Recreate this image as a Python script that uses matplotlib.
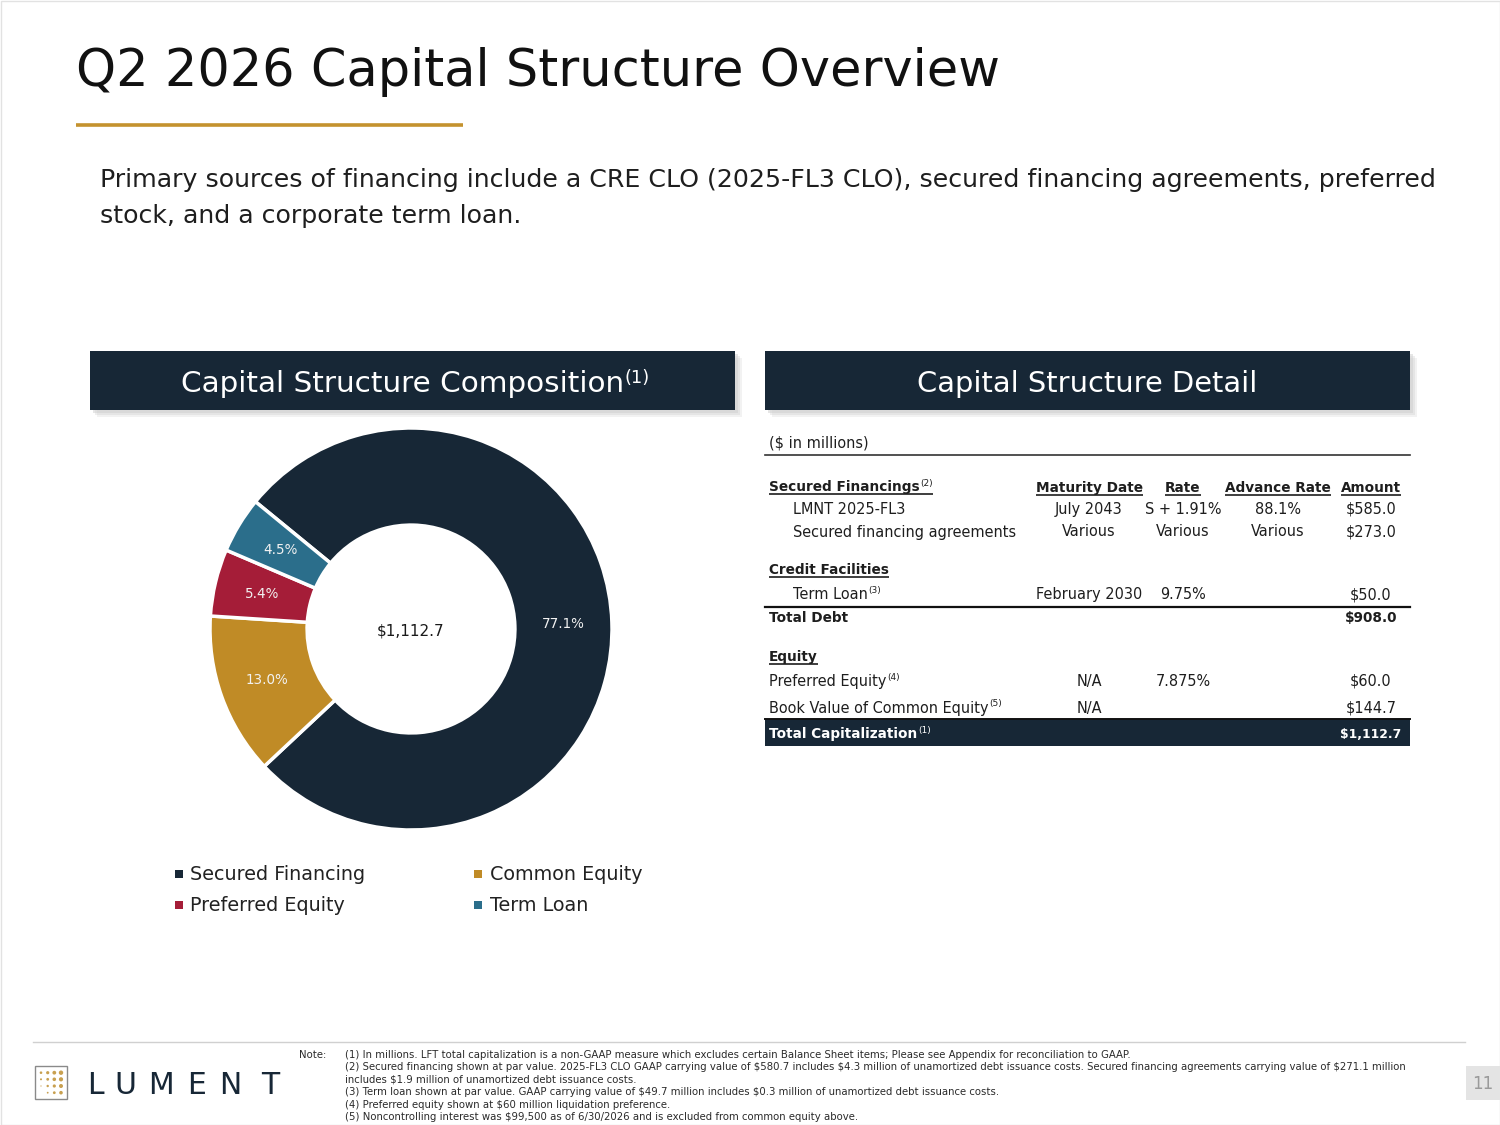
import matplotlib
matplotlib.use('Agg')
import matplotlib.pyplot as plt
from matplotlib.patches import Rectangle, Circle

plt.rcParams['font.family'] = ['DejaVu Sans']
plt.rcParams['text.parse_math'] = False

# ---------------- data ----------------
title = 'Q2 2026 Capital Structure Overview'
subtitle_lines = ['Primary sources of financing include a CRE CLO (2025-FL3 CLO), secured financing agreements, preferred',
                  'stock, and a corporate term loan.']
left_header = 'Capital Structure Composition'
left_header_sup = '(1)'
right_header = 'Capital Structure Detail'

pie_categories = ['Secured Financing', 'Common Equity', 'Preferred Equity', 'Term Loan']
pie_amounts = [858.0, 144.7, 60.0, 50.0]
pie_colors = ['#172736', '#C08B26', '#A51D38', '#2B6E8B']
pie_total = '$1,112.7'

units_note = '($ in millions)'
column_headers = ['Maturity Date', 'Rate', 'Advance Rate', 'Amount']

secured_title, secured_sup = 'Secured Financings', '(2)'
secured_labels = ['LMNT 2025-FL3', 'Secured financing agreements']
secured_maturity = ['July 2043', 'Various']
secured_rate = ['S + 1.91%', 'Various']
secured_advance = ['88.1%', 'Various']
secured_amount = ['$585.0', '$273.0']

credit_title = 'Credit Facilities'
credit_labels = ['Term Loan']
credit_sups = ['(3)']
credit_maturity = ['February 2030']
credit_rate = ['9.75%']
credit_advance = ['']
credit_amount = ['$50.0']

total_debt_label, total_debt = 'Total Debt', '$908.0'

equity_title = 'Equity'
equity_labels = ['Preferred Equity', 'Book Value of Common Equity']
equity_sups = ['(4)', '(5)']
equity_maturity = ['N/A', 'N/A']
equity_rate = ['7.875%', '']
equity_advance = ['', '']
equity_amount = ['$60.0', '$144.7']

total_cap_label, total_cap_sup, total_cap = 'Total Capitalization', '(1)', '$1,112.7'

note_label = 'Note:'
notes = [
    '(1) In millions. LFT total capitalization is a non-GAAP measure which excludes certain Balance Sheet items; Please see Appendix for reconciliation to GAAP.',
    '(2) Secured financing shown at par value. 2025-FL3 CLO GAAP carrying value of $580.7 includes $4.3 million of unamortized debt issuance costs. Secured financing agreements carrying value of $271.1 million',
    'includes $1.9 million of unamortized debt issuance costs.',
    '(3) Term loan shown at par value. GAAP carrying value of $49.7 million includes $0.3 million of unamortized debt issuance costs.',
    '(4) Preferred equity shown at $60 million liquidation preference.',
    '(5) Noncontrolling interest was $99,500 as of 6/30/2026 and is excluded from common equity above.',
]
logo_text = 'LUMENT'
page_number = '11'

# ---------------- figure ----------------
W, H = 1500, 1125
NAVY = '#172736'
GOLD = '#C4922E'
TXT = '#1e1e1e'

fig = plt.figure(figsize=(15, 11.25), dpi=100)
fig.patch.set_facecolor('white')
bg = fig.add_axes([0, 0, 1, 1])
bg.set_xlim(0, W)
bg.set_ylim(H, 0)
bg.axis('off')
R = fig.canvas.get_renderer()


def T(x, y, s, size, fit_w=None, **kw):
    kw.setdefault('color', TXT)
    kw.setdefault('va', 'baseline')
    t = bg.text(x, y, s, fontsize=size, **kw)
    if fit_w is not None:
        cur = t.get_window_extent(R).width
        t.set_fontsize(size * fit_w / cur)
    return t


def sup(t, s, size, color=TXT, dy=0):
    return bg.annotate(s, xy=(1, 1), xycoords=t, xytext=(0.5, dy), textcoords='offset points',
                       ha='left', va='top', fontsize=size, color=color)


def underline(artists, y, lw=1.2, color=TXT):
    x0 = min(a.get_window_extent(R).x0 for a in artists)
    x1 = max(a.get_window_extent(R).x1 for a in artists)
    bg.plot([x0, x1], [y, y], color=color, lw=lw, solid_capstyle='butt')


# page border
bg.add_patch(Rectangle((0.5, 0.5), W - 1, H - 1, fill=False, ec='#e2e2e2', lw=1))

# title
T(76, 86, title, 40, fit_w=924, color='#111111')
bg.plot([76, 463], [124.5, 124.5], color=GOLD, lw=2.6, solid_capstyle='butt')

# subtitle
t_sub = T(100, 187, subtitle_lines[0], 18, fit_w=1343)
sub_fs = t_sub.get_fontsize()
T(100, 223, subtitle_lines[1], sub_fs)

# header boxes with shadow
for bx in (90, 765):
    for k, a in zip((7, 5, 3), (0.25, 0.35, 0.5)):
        bg.add_patch(Rectangle((bx + k, 351 + k), 645, 59, color='#cfcfcf', alpha=a, lw=0))
    bg.add_patch(Rectangle((bx, 351), 645, 59, color=NAVY, lw=0))
t_lh = T(181, 392, left_header, 22, fit_w=443, color='white')
sup(t_lh, left_header_sup, t_lh.get_fontsize() * 0.6, color='white', dy=1)
T(1087.5, 392, right_header, 22, fit_w=340, color='white', ha='center')

# ---------------- donut ----------------
cx, cy, r = 411, 629, 201
pax = fig.add_axes([(cx - r) / W, (H - cy - r) / H, 2 * r / W, 2 * r / H])
wedges, texts, autotexts = pax.pie(
    pie_amounts, colors=pie_colors, startangle=140.7, counterclock=False, radius=1.0,
    autopct=lambda p: f'{p:.1f}%', pctdistance=0.759,
    wedgeprops=dict(width=0.483, edgecolor='white', linewidth=2.5),
    textprops=dict(color='white', fontsize=11.5))
pax.set_xlim(-1, 1)
pax.set_ylim(-1, 1)
pax.set_aspect('equal')
for at in autotexts:
    at.set_color('#f2f2f2')
w0 = autotexts[0].get_window_extent(R).width
fs_lab = 11.5 * 43 / w0
for at in autotexts:
    at.set_fontsize(fs_lab)
T(411, 631, pie_total, 14, fit_w=68, ha='center', va='center', color='#1a1a1a')

# legend
leg_pos = [(175, 880), (474, 880), (175, 911), (474, 911)]
fs_leg = None
for (lx, ly), cat, col in zip(leg_pos, pie_categories, pie_colors):
    bg.add_patch(Rectangle((lx, ly - 10), 8, 8, color=col, lw=0))
    if fs_leg is None:
        tl = T(lx + 15.5, ly, cat, 14, fit_w=176, color='#222222')
        fs_leg = tl.get_fontsize()
    else:
        T(lx + 15.5, ly, cat, fs_leg, color='#222222')

# ---------------- table ----------------
XL, XR = 765, 1410
col_x = [1089, 1183, 1278, 1371]
t_ref = T(793, 536.5, secured_labels[1], 10.5, fit_w=224)
fs = t_ref.get_fontsize()
t_ref.remove()
fs_sup = fs * 0.62
fs_bold = fs * 0.94

T(769, 448, units_note, fs)
bg.plot([XL, XR], [455, 455], color='#333333', lw=1.2)

# header row
t_sf = T(769, 491, secured_title, fs_bold, fontweight='bold')
s_sf = sup(t_sf, secured_sup, fs_sup, dy=1)
underline([t_sf, s_sf], 493.5)
for cxp, h in zip(col_x, column_headers):
    th = T(cxp, 492, h, fs_bold, fontweight='bold', ha='center')
    underline([th], 494.5)


def row(y, label, vals, x_label=793, s=None, bold=False, color=TXT, amt_scale=1.0):
    fw = 'bold' if bold else 'normal'
    tl = T(x_label, y, label, fs_bold if bold else fs, fontweight=fw, color=color)
    if s:
        sup(tl, s, fs_sup, color=color, dy=1)
    for cxp, v in zip(col_x, vals):
        if v:
            if bold and cxp == col_x[-1]:
                T(cxp, y, v, fs_bold * amt_scale, ha='center', color=color, fontweight='bold')
            else:
                T(cxp, y, v, fs, ha='center', color=color)


for i, lab in enumerate(secured_labels):
    row([514, 536.5][i], lab, [secured_maturity[i], secured_rate[i], secured_advance[i], secured_amount[i]])

t_cf = T(769, 574, credit_title, fs_bold, fontweight='bold')
underline([t_cf], 576.5)
for i, lab in enumerate(credit_labels):
    row(599, lab, [credit_maturity[i], credit_rate[i], credit_advance[i], credit_amount[i]], s=credit_sups[i])
bg.plot([XL, XR], [607, 607], color='#111111', lw=1.6)
row(622.5, total_debt_label, ['', '', '', total_debt], x_label=769, bold=True)

t_eq = T(769, 661, equity_title, fs_bold, fontweight='bold')
underline([t_eq], 663.5)
for i, lab in enumerate(equity_labels):
    row([686, 712.5][i], lab, [equity_maturity[i], equity_rate[i], equity_advance[i], equity_amount[i]],
        x_label=769, s=equity_sups[i])

bg.plot([XL, XR], [719, 719], color='#111111', lw=1.4)
bg.add_patch(Rectangle((XL, 719), XR - XL, 27, color=NAVY, lw=0))
row(738, total_cap_label, ['', '', '', total_cap], x_label=769, s=total_cap_sup, bold=True, color='white',
    amt_scale=0.9)

# ---------------- footer ----------------
bg.plot([33, 1465], [1042, 1042], color='#d0d0d0', lw=1)
t_n = T(345, 1070, notes[1], 7, fit_w=1072, color='#2a2a2a')
fs_n = t_n.get_fontsize()
note_y = [1057.5, 1070, 1082.5, 1095, 1107.5, 1120]
T(299, note_y[0], note_label, fs_n, color='#2a2a2a')
for i, (ny, s) in enumerate(zip(note_y, notes)):
    if i != 1:
        T(345, ny, s, fs_n, color='#2a2a2a')

# logo
bg.add_patch(Rectangle((35, 1066), 32, 33, fill=False, ec='#8a8a8a', lw=1.0))
dot_x = [41, 47.7, 54.3, 61]
dot_y = [1072.7, 1079.3, 1086, 1092.7]
dot_r = [[1.3, 1.6, 1.9, 2.2],
         [1.0, 1.4, 1.8, 2.1],
         [0.6, 1.2, 1.6, 2.0],
         [0.0, 0.9, 1.4, 1.8]]
for j, yy in enumerate(dot_y):
    for i, xx in enumerate(dot_x):
        if dot_r[j][i] > 0:
            bg.add_patch(Circle((xx, yy), dot_r[j][i], color='#C8A050', lw=0))
letter_cx = [95.5, 125.5, 161, 196.5, 230, 270]
for ch, lx in zip(logo_text, letter_cx):
    T(lx, 1094, ch, 21.5, ha='center', color=NAVY)

# page number
bg.add_patch(Rectangle((1466, 1066), 34, 34, color='#e4e4e4', lw=0))
T(1483, 1084, page_number, 12, ha='center', va='center', color='#9a9a9a')

fig.savefig('out.png', dpi=100, facecolor='white')
